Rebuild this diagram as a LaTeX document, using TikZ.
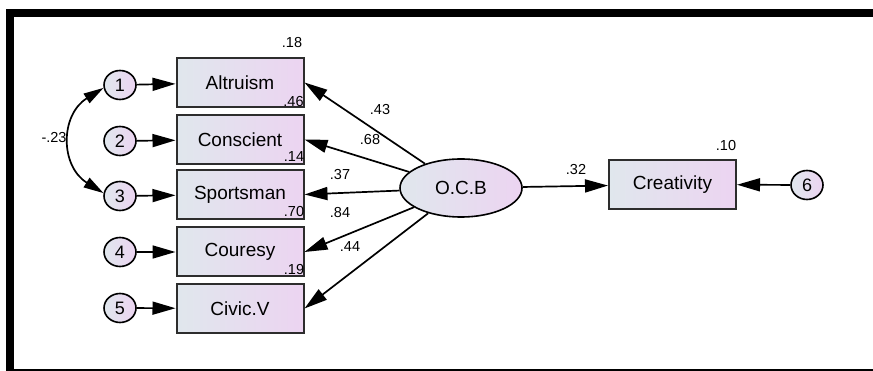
\documentclass[tikz,border=0pt]{standalone}
\usepackage{fontspec}
\setmainfont{Liberation Sans}
\usetikzlibrary{shapes.geometric,arrows.meta}
\definecolor{cleft}{RGB}{224,231,237}
\definecolor{cright}{RGB}{236,212,241}
\definecolor{boxborder}{RGB}{45,45,45}
\tikzset{
  obs/.style={rectangle, draw=boxborder, line width=2pt, minimum width=127pt, minimum height=49pt,
    left color=cleft, right color=cright, inner sep=0pt, font=\fontsize{19}{22}\selectfont},
  err/.style={ellipse, draw=black, line width=1.6pt, minimum width=32pt, minimum height=29pt,
    left color=cleft, right color=cright, inner sep=0pt, font=\fontsize{18}{20}\selectfont},
  lat/.style={ellipse, draw=black, line width=1.6pt, minimum width=122pt, minimum height=58pt,
    left color=cleft, right color=cright, inner sep=0pt, font=\fontsize{19}{22}\selectfont},
  lab/.style={inner sep=0pt, font=\fontsize{14.5}{16}\selectfont},
  arr/.style={-{Triangle[length=23pt,width=13pt]}, line width=1.7pt, black},
  darr/.style={{Triangle[length=20pt,width=11pt]}-{Triangle[length=20pt,width=11pt]}, line width=1.7pt, black},
}
\begin{document}
\begin{tikzpicture}[x=1pt,y=-1pt]
\path[use as bounding box] (0,0) rectangle (873,371);
% frame
\fill[black] (6,9.5) rectangle (873,17.3);
\fill[black] (6,9.5) rectangle (14,371);
\draw[line width=1.5pt] (14,370.2) -- (873,370.2);
% observed
\node[obs] (alt) at (240,82.5) {Altruism};
\node[obs] (con) at (240,139.5) {Conscient};
\node[obs] (spo) at (240,194.5) {Sportsman};
\node[obs] (cou) at (240,252) {Couresy};
\node[obs] (civ) at (240,308.5) {Civic.V};
\node[obs] (cre) at (672.5,184.5) {Creativity};
% errors
\node[err] (c1) at (120,85) {1};
\node[err] (c2) at (120,141) {2};
\node[err] (c3) at (120,196) {3};
\node[err] (c4) at (120,252) {4};
\node[err] (c5) at (120,308) {5};
\node[err] (c6) at (807,185) {6};
% latent
\node[lat] (ocb) at (461,188) {O.C.B};
% connectors
\draw[arr] (c1) -- (alt);
\draw[arr] (c2) -- (con);
\draw[arr] (c3) -- (spo);
\draw[arr] (c4) -- (cou);
\draw[arr] (c5) -- (civ);
\draw[arr] (c6) -- (cre);
\draw[arr] (ocb) -- (alt.east);
\draw[arr] (ocb) -- (con.east);
\draw[arr] (ocb) -- (spo.east);
\draw[arr] (ocb) -- (cou.east);
\draw[arr] (ocb) -- (civ.east);
\draw[arr] (ocb) -- (cre);
\draw[darr] (c1.190) .. controls (60,115) and (60,166) .. (c3.170);
% labels
\node[lab] (l18) at (292,43) {.18};
\node[lab] (l46) at (293.5,102) {.46};
\node[lab] (l14) at (294,157) {.14};
\node[lab] (l70) at (294,212) {.70};
\node[lab] (l19) at (294,270) {.19};
\node[lab] (l10) at (726,146) {.10};
\node[lab] (l43) at (380,110) {.43};
\node[lab] (l68) at (370,140) {.68};
\node[lab] (l37) at (340,175) {.37};
\node[lab] (l84) at (340,213) {.84};
\node[lab] (l44) at (350,247) {.44};
\node[lab] (l32) at (576,170) {.32};
\node[lab] (l23) at (54,138) {-.23};
\end{tikzpicture}
\end{document}
